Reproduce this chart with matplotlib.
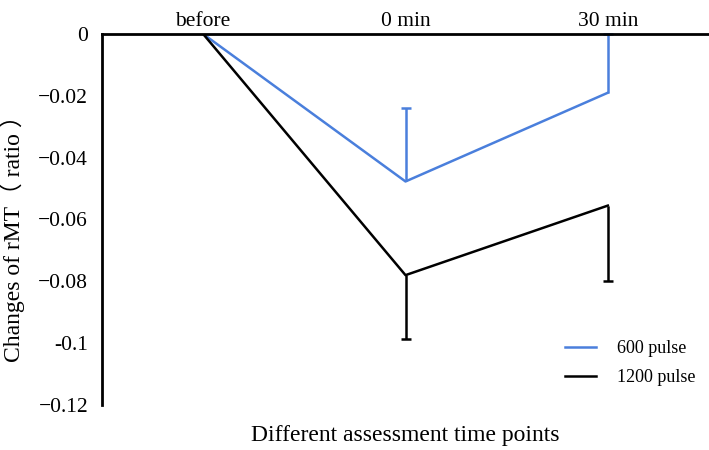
import matplotlib
matplotlib.use("Agg")
import matplotlib.pyplot as plt

categories = ["before", "0 min", "30 min"]
pulse600 = [0.0, -0.0477, -0.0190]
pulse600_err_up = [0.0, 0.0238, 0.0190]
pulse1200 = [0.0, -0.0780, -0.0555]
pulse1200_err_down = [0.0, 0.0205, 0.0245]
ytick_vals = [0, -0.02, -0.04, -0.06, -0.08, -0.1, -0.12]
ytick_labels = ["0", "\u22120.02", "\u22120.04", "\u22120.06", "\u22120.08", "-0.1", "\u22120.12"]

plt.rcParams["font.family"] = ["Liberation Serif", "DejaVu Serif"]

W, H = 709, 450
fig = plt.figure(figsize=(W/100, H/100), dpi=100)
ax = fig.add_axes([102/W, 1-405/H, 607/W, 371/H])

x = [0.5, 1.5, 2.5]
blue = "#4a7fdc"
lw = 1.8

ax.plot(x, pulse600, color=blue, lw=lw, label="600 pulse", zorder=3)
tops = [v + e for v, e in zip(pulse600, pulse600_err_up)]
ax.vlines(x[1:], pulse600[1:], tops[1:], color=blue, lw=lw, zorder=3)
ax.plot(x[1:], tops[1:], ls="none", marker="_", ms=7, mew=lw, color=blue, zorder=3, clip_on=False)

ax.plot(x, pulse1200, color="black", lw=lw, label="1200 pulse", zorder=3)
bots = [v - e for v, e in zip(pulse1200, pulse1200_err_down)]
ax.vlines(x[1:], bots[1:], pulse1200[1:], color="black", lw=lw, zorder=3)
ax.plot(x[1:], bots[1:], ls="none", marker="_", ms=7, mew=lw, color="black", zorder=3)

ax.set_xlim(0, 3)
ax.set_ylim(-0.12, 0)
ax.set_xticks(x)
ax.set_xticklabels(categories, fontsize=15.5)
ax.xaxis.tick_top()
ax.tick_params(axis="x", length=0, pad=2)
ax.set_yticks(ytick_vals)
ax.set_yticklabels(ytick_labels, fontsize=15.5)
ax.tick_params(axis="y", length=0, pad=10)

for s in ["right", "bottom"]:
    ax.spines[s].set_visible(False)
ax.spines["top"].set_linewidth(2)
ax.spines["left"].set_linewidth(2)
ax.spines["top"].set_zorder(4)

fig.text(12/W, 1-233/H, "Changes of rMT\uff08 ratio \uff09", fontsize=17, rotation=90,
         ha="center", va="center", family=["Liberation Serif", "Noto Sans CJK SC"])
fig.text(405/W, 1-435/H, "Different assessment time points", fontsize=17,
         ha="center", va="center")

ax.legend(loc="upper left", frameon=False, fontsize=13, handlelength=1.72,
          borderpad=0, borderaxespad=0, bbox_to_anchor=(565/W, 1-340/H),
          bbox_transform=fig.transFigure, labelspacing=0.66, handletextpad=1.16)

fig.savefig("out.png", dpi=100)
